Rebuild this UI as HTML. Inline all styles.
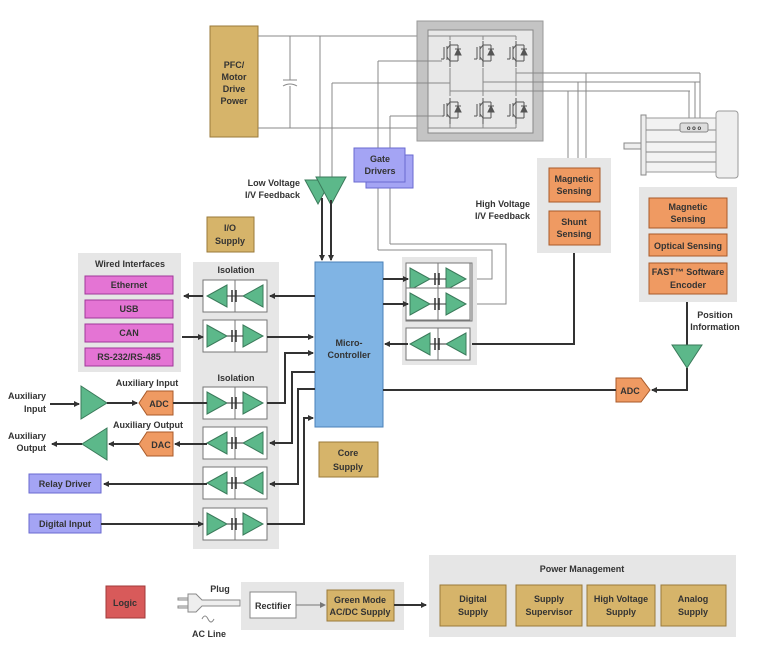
<!DOCTYPE html>
<html><head><meta charset="utf-8"><style>
html,body{margin:0;padding:0;background:#fff}
svg{display:block}
text{font-family:"Liberation Sans",sans-serif;font-weight:bold;font-size:9px;fill:#333}
.c{text-anchor:middle}
.r{text-anchor:end}
.w{stroke:#888;stroke-width:1;fill:none}
.k{stroke:#333;stroke-width:2;fill:none}
.tri{fill:#5cb88a;stroke:#3a7a5a;stroke-width:1}
.gold{fill:#d6b46a;stroke:#9a7a3a;stroke-width:1}
.or{fill:#ef9a62;stroke:#a85a2a;stroke-width:1}
.pan{fill:#e6e6e6}
</style></head><body>
<svg width="765" height="658" viewBox="0 0 765 658" xmlns="http://www.w3.org/2000/svg">
<defs>
<marker id="a" markerWidth="6" markerHeight="6" refX="5" refY="3" orient="auto" markerUnits="userSpaceOnUse"><path d="M0,0L6,3L0,6z" fill="#333"/></marker>
<marker id="g" markerWidth="6" markerHeight="6" refX="5" refY="3" orient="auto" markerUnits="userSpaceOnUse"><path d="M0,0L6,3L0,6z" fill="#777"/></marker>
<g id="isoR">
<rect x="0" y="0" width="64" height="32" fill="#fff" stroke="#777"/>
<line x1="32" y1="0" x2="32" y2="32" stroke="#777"/>
<path d="M4,5L24,16L4,27z" class="tri"/><path d="M40,5L60,16L40,27z" class="tri"/>
<line x1="24" y1="16" x2="40" y2="16" stroke="#333"/>
<line x1="29" y1="10" x2="29" y2="22" stroke="#333" stroke-width="1.5"/><line x1="33" y1="10" x2="33" y2="22" stroke="#333" stroke-width="1.5"/>
</g>
<g id="isoL">
<rect x="0" y="0" width="64" height="32" fill="#fff" stroke="#777"/>
<line x1="32" y1="0" x2="32" y2="32" stroke="#777"/>
<path d="M24,5L4,16L24,27z" class="tri"/><path d="M60,5L40,16L60,27z" class="tri"/>
<line x1="24" y1="16" x2="40" y2="16" stroke="#333"/>
<line x1="29" y1="10" x2="29" y2="22" stroke="#333" stroke-width="1.5"/><line x1="33" y1="10" x2="33" y2="22" stroke="#333" stroke-width="1.5"/>
</g>
<g id="igbt" stroke="#555" fill="none" stroke-width="1">
<line x1="0" y1="-12" x2="0" y2="14"/>
<line x1="-6" y1="-6" x2="-6" y2="6"/><line x1="-9" y1="6" x2="-6" y2="6"/>
<line x1="-3" y1="-7" x2="-3" y2="7"/>
<line x1="-3" y1="-4" x2="0" y2="-8"/><line x1="-3" y1="4" x2="0" y2="8"/>
<line x1="0" y1="-8" x2="8" y2="-8"/><line x1="8" y1="-8" x2="8" y2="8"/><line x1="0" y1="8" x2="8" y2="8"/>
<path d="M5,2L11,2L8,-4z" fill="#555"/><line x1="5" y1="-4" x2="11" y2="-4"/>
</g>
</defs>

<!-- PFC -->
<rect x="210" y="26" width="48" height="111" class="gold"/>
<text x="234" y="68" class="c">PFC/</text><text x="234" y="80" class="c">Motor</text><text x="234" y="92" class="c">Drive</text><text x="234" y="104" class="c">Power</text>
<line x1="258" y1="36" x2="436" y2="36" class="w"/>
<line x1="258" y1="128" x2="436" y2="128" class="w"/>
<line x1="290" y1="36" x2="290" y2="80" class="w"/><line x1="290" y1="86" x2="290" y2="128" class="w"/>
<line x1="283" y1="80" x2="297" y2="80" class="w"/><path d="M283,86Q290,82 297,86" class="w"/>

<!-- inverter -->
<rect x="417" y="21" width="126" height="120" fill="#c4c4c4" stroke="#999"/>
<rect x="428" y="30" width="105" height="103" fill="#e8e8e8" stroke="#888"/>
<g class="w">
<line x1="428" y1="36" x2="516" y2="36"/>
<line x1="428" y1="128" x2="516" y2="128"/>
<line x1="450" y1="36" x2="450" y2="128"/><line x1="483" y1="36" x2="483" y2="128"/><line x1="516" y1="36" x2="516" y2="128"/>
<line x1="450" y1="91" x2="516" y2="91"/>
<line x1="483" y1="82" x2="700" y2="82"/>
<line x1="516" y1="73" x2="700" y2="73"/>
<line x1="450" y1="91" x2="690" y2="91"/>
</g>
<rect x="436" y="40" width="90" height="28" fill="#e8e8e8"/>
<rect x="436" y="96" width="90" height="28" fill="#e8e8e8"/>
<use href="#igbt" x="450" y="53"/><use href="#igbt" x="483" y="53"/><use href="#igbt" x="516" y="53"/>
<use href="#igbt" x="450" y="110"/><use href="#igbt" x="483" y="110"/><use href="#igbt" x="516" y="110"/>
<!-- motor phase lines -->
<g class="w">
<line x1="700" y1="73" x2="700" y2="125"/><line x1="695" y1="82" x2="695" y2="125"/><line x1="689" y1="91" x2="689" y2="125"/>
<line x1="586" y1="73" x2="586" y2="158"/><line x1="578" y1="82" x2="578" y2="158"/><line x1="568" y1="91" x2="568" y2="158"/>
</g>
<!-- motor -->
<rect x="624" y="143" width="17" height="6" fill="#eee" stroke="#888"/>
<rect x="641" y="115" width="5" height="60" fill="#eee" stroke="#888"/>
<rect x="646" y="118" width="72" height="54" fill="#f2f2f2" stroke="#999"/>
<g class="w"><line x1="646" y1="130" x2="718" y2="130"/><line x1="646" y1="142" x2="718" y2="142"/><line x1="646" y1="152" x2="718" y2="152"/><line x1="646" y1="162" x2="718" y2="162"/></g>
<rect x="716" y="111" width="22" height="67" rx="3" fill="#eee" stroke="#999"/>
<rect x="680" y="123" width="28" height="9" rx="2" fill="#ddd" stroke="#888"/>
<text x="694" y="130" class="c" style="font-size:6px">o o o</text>

<!-- gate driver lines -->
<g class="w">
<line x1="378" y1="61" x2="378" y2="250"/><line x1="378" y1="61" x2="442" y2="61"/>
<line x1="390" y1="116" x2="390" y2="244"/><line x1="390" y1="116" x2="442" y2="116"/>
<line x1="332" y1="83" x2="332" y2="185"/><line x1="332" y1="83" x2="450" y2="83"/>
<line x1="320" y1="36" x2="320" y2="185"/>
<polyline points="378,250 492,250 492,279 466,279"/>
<polyline points="390,244 506,244 506,304 466,304"/>
</g>
<rect x="366" y="155" width="47" height="33" fill="#a4a4f4" stroke="#6a6ad0"/>
<rect x="354" y="148" width="51" height="34" fill="#a4a4f4" stroke="#6a6ad0"/>
<text x="380" y="162" class="c">Gate</text><text x="380" y="174" class="c">Drivers</text>

<!-- low voltage feedback -->
<path d="M305,180L331,180L318,204z" class="tri"/>
<path d="M316,177L346,177L331,205z" class="tri"/>
<text x="300" y="186" class="r">Low Voltage</text><text x="300" y="198" class="r">I/V Feedback</text>
<line x1="322" y1="198" x2="322" y2="260" class="k" marker-end="url(#a)"/>
<line x1="331" y1="200" x2="331" y2="260" class="k" marker-end="url(#a)"/>

<!-- I/O supply -->
<rect x="207" y="217" width="47" height="35" class="gold"/>
<text x="230" y="231" class="c">I/O</text><text x="230" y="244" class="c">Supply</text>

<!-- wired -->
<rect x="78" y="253" width="103" height="119" class="pan"/>
<text x="130" y="267" class="c">Wired Interfaces</text>
<g fill="#e474d4" stroke="#a0389a">
<rect x="85" y="276" width="88" height="18"/><rect x="85" y="300" width="88" height="18"/><rect x="85" y="324" width="88" height="18"/><rect x="85" y="348" width="88" height="18"/>
</g>
<text x="129" y="288" class="c">Ethernet</text><text x="129" y="312" class="c">USB</text><text x="129" y="336" class="c">CAN</text><text x="129" y="360" class="c">RS-232/RS-485</text>

<!-- isolation panel -->
<rect x="193" y="262" width="86" height="287" class="pan"/>
<text x="236" y="273" class="c">Isolation</text>
<text x="236" y="381" class="c">Isolation</text>
<use href="#isoL" x="203" y="280"/>
<use href="#isoR" x="203" y="320"/>
<use href="#isoR" x="203" y="387"/>
<use href="#isoL" x="203" y="427"/>
<use href="#isoL" x="203" y="467"/>
<use href="#isoR" x="203" y="508"/>

<!-- MCU -->
<rect x="315" y="262" width="68" height="165" fill="#80b4e4" stroke="#4a80b8"/>
<text x="349" y="346" class="c">Micro-</text><text x="349" y="358" class="c">Controller</text>

<!-- connectors left -->
<line x1="315" y1="296" x2="270" y2="296" class="k" marker-end="url(#a)"/>
<line x1="203" y1="296" x2="184" y2="296" class="k" marker-end="url(#a)"/>
<line x1="182" y1="337" x2="203" y2="337" class="k" marker-end="url(#a)"/>
<line x1="267" y1="337" x2="313" y2="337" class="k" marker-end="url(#a)"/>
<polyline points="267,403 285,403 285,353 313,353" class="k" marker-end="url(#a)"/>
<polyline points="315,372 292,372 292,443 270,443" class="k" marker-end="url(#a)"/>
<polyline points="315,389 298,389 298,484 270,484" class="k" marker-end="url(#a)"/>
<polyline points="267,524 304,524 304,418 313,418" class="k" marker-end="url(#a)"/>

<!-- aux -->
<text x="46" y="399" class="r">Auxiliary</text>
<text x="46" y="412" class="r">Input</text>
<line x1="50" y1="404" x2="79" y2="404" class="k" marker-end="url(#a)"/>
<path d="M81,386L107,403L81,419z" class="tri"/>
<line x1="107" y1="403" x2="137" y2="403" class="k" marker-end="url(#a)"/>
<path d="M139,403L147,391L173,391L173,415L147,415z" class="or"/>
<text x="159" y="407" class="c">ADC</text>
<text x="147" y="386" class="c">Auxiliary Input</text>
<line x1="173" y1="403" x2="207" y2="403" class="k"/>

<text x="148" y="428" class="c">Auxiliary Output</text>
<path d="M139,444L147,432L173,432L173,456L147,456z" class="or"/>
<text x="161" y="448" class="c">DAC</text>
<line x1="207" y1="444" x2="175" y2="444" class="k" marker-end="url(#a)"/>
<line x1="139" y1="444" x2="109" y2="444" class="k" marker-end="url(#a)"/>
<path d="M107,428L82,444L107,460z" class="tri"/>
<line x1="82" y1="444" x2="52" y2="444" class="k" marker-end="url(#a)"/>
<text x="46" y="439" class="r">Auxiliary</text><text x="46" y="451" class="r">Output</text>

<rect x="29" y="474" width="72" height="19" fill="#a4a4f4" stroke="#6a6ad0"/>
<text x="65" y="487" class="c">Relay Driver</text>
<line x1="207" y1="484" x2="104" y2="484" class="k" marker-end="url(#a)"/>
<rect x="29" y="514" width="72" height="19" fill="#a4a4f4" stroke="#6a6ad0"/>
<text x="65" y="527" class="c">Digital Input</text>
<line x1="101" y1="524" x2="203" y2="524" class="k" marker-end="url(#a)"/>

<!-- core supply -->
<rect x="319" y="442" width="59" height="35" class="gold"/>
<text x="348" y="456" class="c">Core</text><text x="348" y="470" class="c">Supply</text>

<!-- right iso -->
<rect x="402" y="257" width="75" height="108" class="pan"/>
<use href="#isoR" x="406" y="263"/>
<use href="#isoR" x="406" y="288"/>
<rect x="406" y="263" width="66" height="58" fill="none" stroke="#777"/>
<use href="#isoL" x="406" y="328"/>
<line x1="383" y1="279" x2="408" y2="279" class="k" marker-end="url(#a)"/>
<line x1="383" y1="304" x2="408" y2="304" class="k" marker-end="url(#a)"/>
<polyline points="574,253 574,344 472,344" class="k"/>
<line x1="408" y1="344" x2="385" y2="344" class="k" marker-end="url(#a)"/>
<text x="530" y="207" class="r">High Voltage</text><text x="530" y="219" class="r">I/V Feedback</text>

<!-- sensing -->
<rect x="537" y="158" width="74" height="95" class="pan"/>
<rect x="549" y="168" width="51" height="34" class="or"/>
<text x="574" y="182" class="c">Magnetic</text><text x="574" y="194" class="c">Sensing</text>
<rect x="549" y="211" width="51" height="34" class="or"/>
<text x="574" y="225" class="c">Shunt</text><text x="574" y="237" class="c">Sensing</text>

<rect x="639" y="187" width="98" height="115" class="pan"/>
<rect x="649" y="198" width="78" height="30" class="or"/>
<text x="688" y="210" class="c">Magnetic</text><text x="688" y="222" class="c">Sensing</text>
<rect x="649" y="234" width="78" height="22" class="or"/>
<text x="688" y="249" class="c">Optical Sensing</text>
<rect x="649" y="263" width="78" height="31" class="or"/>
<text x="688" y="275" class="c">FAST™ Software</text><text x="688" y="288" class="c">Encoder</text>
<line x1="687" y1="302" x2="687" y2="346" class="k"/>
<text x="715" y="318" class="c">Position</text><text x="715" y="330" class="c">Information</text>
<path d="M672,345L702,345L687,368z" class="tri"/>
<polyline points="687,368 687,390 652,390" class="k" marker-end="url(#a)"/>
<path d="M616,378L641,378L650,390L641,402L616,402z" class="or"/>
<text x="630" y="394" class="c">ADC</text>
<line x1="383" y1="390" x2="616" y2="390" class="k"/>

<!-- bottom -->
<rect x="106" y="586" width="39" height="32" fill="#d85a5a" stroke="#a03a3a"/>
<text x="125" y="606" class="c">Logic</text>
<text x="220" y="592" class="c">Plug</text>
<text x="209" y="637" class="c">AC Line</text>
<path d="M202,619q3,-6 6,0t6,0" class="w"/>
<g stroke="#888" fill="#eee">
<rect x="178" y="598" width="10" height="2"/><rect x="178" y="606" width="10" height="2"/>
<path d="M188,594L196,594L202,600L240,600L240,606L202,606L196,612L188,612z"/>
</g>
<rect x="241" y="582" width="163" height="48" class="pan"/>
<rect x="250" y="592" width="46" height="26" fill="#fff" stroke="#888"/>
<text x="273" y="609" class="c">Rectifier</text>
<line x1="296" y1="605" x2="325" y2="605" stroke="#777" marker-end="url(#g)"/>
<rect x="327" y="590" width="67" height="31" class="gold"/>
<text x="360" y="603" class="c">Green Mode</text><text x="360" y="615" class="c">AC/DC Supply</text>
<line x1="394" y1="605" x2="426" y2="605" class="k" marker-end="url(#a)"/>
<rect x="429" y="555" width="307" height="82" class="pan"/>
<text x="582" y="572" class="c">Power Management</text>
<rect x="440" y="585" width="66" height="41" class="gold"/><text x="473" y="602" class="c">Digital</text><text x="473" y="615" class="c">Supply</text>
<rect x="516" y="585" width="66" height="41" class="gold"/><text x="549" y="602" class="c">Supply</text><text x="549" y="615" class="c">Supervisor</text>
<rect x="587" y="585" width="68" height="41" class="gold"/><text x="621" y="602" class="c">High Voltage</text><text x="621" y="615" class="c">Supply</text>
<rect x="661" y="585" width="65" height="41" class="gold"/><text x="693" y="602" class="c">Analog</text><text x="693" y="615" class="c">Supply</text>
</svg>
</body></html>
